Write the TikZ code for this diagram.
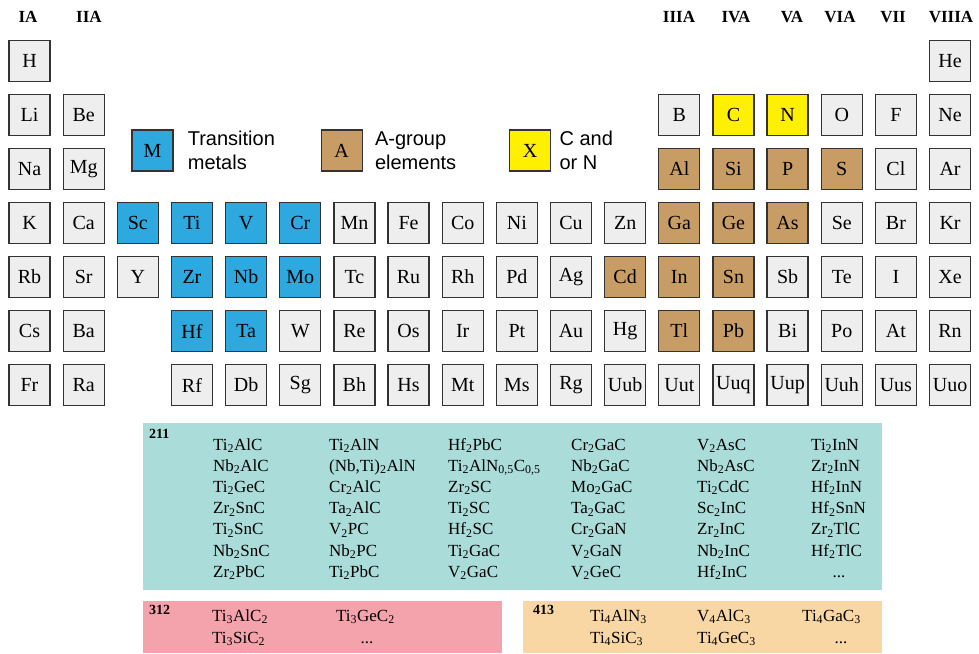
\documentclass[tikz,border=0pt]{standalone}
\usepackage{fontspec}
\setmainfont{Liberation Serif}
\newfontfamily\legendfont{Liberation Sans}
\usetikzlibrary{positioning}

\definecolor{elgray}{HTML}{EEEEEE}
\definecolor{elline}{HTML}{333333}
\definecolor{mblue}{HTML}{2EA9DF}
\definecolor{atan}{HTML}{C89D65}
\definecolor{xyellow}{HTML}{FFF000}
\definecolor{bgtwo}{HTML}{AADCD9}
\definecolor{bgthree}{HTML}{F4A3AC}
\definecolor{bgfour}{HTML}{F9D7A4}

\newcommand{\ix}[1]{\textsubscript{#1}}

\tikzset{
  elem/.style={draw=elline, line width=1.3pt, fill=elgray, minimum size=41pt,
    inner sep=0pt, font=\fontsize{20}{20}\selectfont},
  melem/.style={elem, fill=mblue},
  aelem/.style={elem, fill=atan},
  xelem/.style={elem, fill=xyellow},
  grouphead/.style={inner sep=0pt, font=\bfseries\fontsize{17}{17}\selectfont},
  legtext/.style={align=left, inner sep=0pt, font=\legendfont\fontsize{20}{24}\selectfont},
  formula/.style={anchor=base west, inner sep=0pt, font=\fontsize{17}{17}\selectfont},
  phase/.style={anchor=base west, inner sep=0pt, font=\bfseries\fontsize{14}{14}\selectfont},
}

\begin{document}
\begin{tikzpicture}[x=1pt, y=-1pt]
		\useasboundingbox (0,0) rectangle (979,653);
		% 族の見出し
		\node[grouphead] (gIA) at (28,17) {IA};
		\node[grouphead] (gIIA) at (89,17) {IIA};
		\node[grouphead] (gIIIA) at (679,17) {IIIA};
		\node[grouphead] (gIVA) at (736,17) {IVA};
		\node[grouphead] (gVA) at (792,17) {VA};
		\node[grouphead] (gVIA) at (840,17) {VIA};
		\node[grouphead] (gVII) at (893,17) {VII};
		\node[grouphead] (gVIIIA) at (951,17) {VIIIA};
		% 周期表
		\foreach \e/\c/\s in {H/1/elem, He/18/elem}
			\node[\s] (\e) at ({29.5+54.15*(\c-1)},61) {\e};
		\foreach \e/\c/\s in {Li/1/elem, Be/2/elem, B/13/elem, C/14/xelem, N/15/xelem,
			O/16/elem, F/17/elem, Ne/18/elem}
			\node[\s] (\e) at ({29.5+54.15*(\c-1)},115) {\e};
		\foreach \e/\c/\s in {Na/1/elem, Mg/2/elem, Al/13/aelem, Si/14/aelem, P/15/aelem,
			S/16/aelem, Cl/17/elem, Ar/18/elem}
			\node[\s] (\e) at ({29.5+54.15*(\c-1)},169) {\e};
		\foreach \e/\c/\s in {K/1/elem, Ca/2/elem, Sc/3/melem, Ti/4/melem, V/5/melem,
			Cr/6/melem, Mn/7/elem, Fe/8/elem, Co/9/elem, Ni/10/elem, Cu/11/elem, Zn/12/elem,
			Ga/13/aelem, Ge/14/aelem, As/15/aelem, Se/16/elem, Br/17/elem, Kr/18/elem}
			\node[\s] (\e) at ({29.5+54.15*(\c-1)},223) {\e};
		\foreach \e/\c/\s in {Rb/1/elem, Sr/2/elem, Y/3/elem, Zr/4/melem, Nb/5/melem,
			Mo/6/melem, Tc/7/elem, Ru/8/elem, Rh/9/elem, Pd/10/elem, Ag/11/elem, Cd/12/aelem,
			In/13/aelem, Sn/14/aelem, Sb/15/elem, Te/16/elem, I/17/elem, Xe/18/elem}
			\node[\s] (\e) at ({29.5+54.15*(\c-1)},277) {\e};
		\foreach \e/\c/\s in {Cs/1/elem, Ba/2/elem, Hf/4/melem, Ta/5/melem,
			W/6/elem, Re/7/elem, Os/8/elem, Ir/9/elem, Pt/10/elem, Au/11/elem, Hg/12/elem,
			Tl/13/aelem, Pb/14/aelem, Bi/15/elem, Po/16/elem, At/17/elem, Rn/18/elem}
			\node[\s] (\e) at ({29.5+54.15*(\c-1)},331) {\e};
		\foreach \e/\c/\s in {Fr/1/elem, Ra/2/elem, Rf/4/elem, Db/5/elem,
			Sg/6/elem, Bh/7/elem, Hs/8/elem, Mt/9/elem, Ms/10/elem, Rg/11/elem, Uub/12/elem,
			Uut/13/elem, Uuq/14/elem, Uup/15/elem, Uuh/16/elem, Uus/17/elem, Uuo/18/elem}
			\node[\s] (\e) at ({29.5+54.15*(\c-1)},385) {\e};
		% 凡例
		\node[melem] (lM) at (152.5,150.5) {M};
		\node[legtext, right=14pt of lM] (tM) {Transition\\metals};
		\node[aelem] (lA) at (341.7,150.5) {A};
		\node[legtext, right=12pt of lA] (tA) {A-group\\elements};
		\node[xelem] (lX) at (530.2,150.5) {X};
		\node[legtext, right=8pt of lX] (tX) {C and\\or N};
		% MAX相の一覧
		\fill[bgtwo] (143.3,423.3) rectangle (881.5,590);
		\fill[bgthree] (143.3,601) rectangle (502,653);
		\fill[bgfour] (523,601) rectangle (881.5,653);
		\node[phase] (p211) at (149,438.5) {211};
		\node[phase] (p312) at (149,614.5) {312};
		\node[phase] (p413) at (533,614.5) {413};
		\foreach \f [count=\r] in {Ti\ix{2}AlC, Nb\ix{2}AlC, Ti\ix{2}GeC, Zr\ix{2}SnC,
			Ti\ix{2}SnC, Nb\ix{2}SnC, Zr\ix{2}PbC}
			\node[formula] (fa\r) at (213,{450+21.2*(\r-1)}) {\f};
		\foreach \f [count=\r] in {Ti\ix{2}AlN, {(Nb,Ti)\ix{2}AlN}, Cr\ix{2}AlC, Ta\ix{2}AlC,
			V\ix{2}PC, Nb\ix{2}PC, Ti\ix{2}PbC}
			\node[formula] (fb\r) at (329,{450+21.2*(\r-1)}) {\f};
		\foreach \f [count=\r] in {Hf\ix{2}PbC, {Ti\ix{2}AlN\ix{0,5}C\ix{0,5}}, Zr\ix{2}SC,
			Ti\ix{2}SC, Hf\ix{2}SC, Ti\ix{2}GaC, V\ix{2}GaC}
			\node[formula] (fc\r) at (448,{450+21.2*(\r-1)}) {\f};
		\foreach \f [count=\r] in {Cr\ix{2}GaC, Nb\ix{2}GaC, Mo\ix{2}GaC, Ta\ix{2}GaC,
			Cr\ix{2}GaN, V\ix{2}GaN, V\ix{2}GeC}
			\node[formula] (fd\r) at (571,{450+21.2*(\r-1)}) {\f};
		\foreach \f [count=\r] in {V\ix{2}AsC, Nb\ix{2}AsC, Ti\ix{2}CdC, Sc\ix{2}InC,
			Zr\ix{2}InC, Nb\ix{2}InC, Hf\ix{2}InC}
			\node[formula] (fe\r) at (697,{450+21.2*(\r-1)}) {\f};
		\foreach \f [count=\r] in {Ti\ix{2}InN, Zr\ix{2}InN, Hf\ix{2}InN, Hf\ix{2}SnN,
			Zr\ix{2}TlC, Hf\ix{2}TlC}
			\node[formula] (ff\r) at (811,{450+21.2*(\r-1)}) {\f};
		\node[formula, anchor=base] (ff7) at (839,577.2) {...};
		% 312, 413
		\node[formula] (ga1) at (212,621) {Ti\ix{3}AlC\ix{2}};
		\node[formula] (ga2) at (212,643) {Ti\ix{3}SiC\ix{2}};
		\node[formula] (gb1) at (336,621) {Ti\ix{3}GeC\ix{2}};
		\node[formula, anchor=base] (gb2) at (367,643) {...};
		\node[formula] (ha1) at (590,621) {Ti\ix{4}AlN\ix{3}};
		\node[formula] (ha2) at (590,643) {Ti\ix{4}SiC\ix{3}};
		\node[formula] (hb1) at (697,621) {V\ix{4}AlC\ix{3}};
		\node[formula] (hb2) at (697,643) {Ti\ix{4}GeC\ix{3}};
		\node[formula] (hc1) at (802,621) {Ti\ix{4}GaC\ix{3}};
		\node[formula, anchor=base] (hc2) at (841,643) {...};
	\end{tikzpicture}
\end{document}
